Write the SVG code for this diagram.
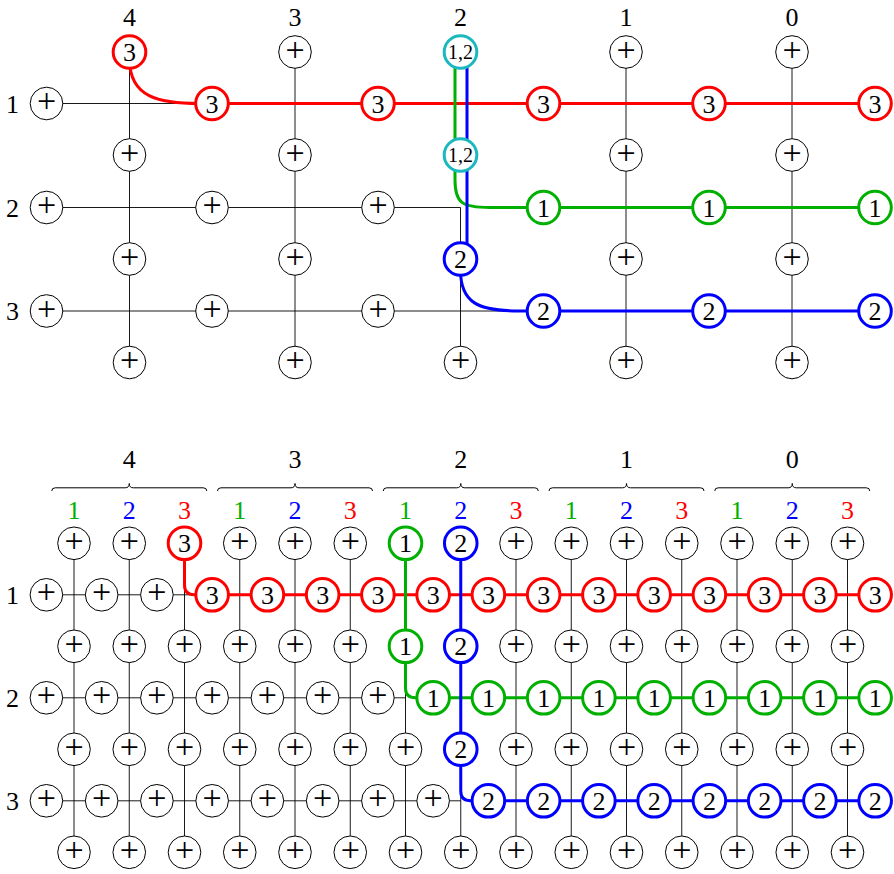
<svg xmlns="http://www.w3.org/2000/svg" width="894" height="874" viewBox="0 0 894 874">
<style>
.n circle{fill:#fff;stroke:#000;stroke-width:1}
.n text{font-family:"Liberation Serif",serif;font-size:26px;text-anchor:middle;fill:#000}
.n text.p{font-size:34px}
.n text.s{font-size:20px}
.r circle{stroke:#f00;stroke-width:3}
.g circle{stroke:#00b000;stroke-width:3}
.b circle{stroke:#00f;stroke-width:3}
.c circle{stroke:#1cb8c0;stroke-width:3}
.lb{font-family:"Liberation Serif",serif;font-size:26px;text-anchor:middle;fill:#000}
.thin{stroke:#000;stroke-width:0.9;fill:none}
.pr{stroke:#f00;stroke-width:3;fill:none}
.pg{stroke:#00b000;stroke-width:3;fill:none}
.pb{stroke:#00f;stroke-width:3;fill:none}
.br{stroke:#000;stroke-width:1;fill:none}
</style>
<rect width="894" height="874" fill="#fff"/>
<g id="labels">
<text class="lb" x="129.5" y="26">4</text>
<text class="lb" x="295" y="26">3</text>
<text class="lb" x="460.5" y="26">2</text>
<text class="lb" x="626" y="26">1</text>
<text class="lb" x="792" y="26">0</text>
<text class="lb" x="12.5" y="112.5">1</text>
<text class="lb" x="12.5" y="216.5">2</text>
<text class="lb" x="12.5" y="320">3</text>
<text class="lb" x="129.25" y="468">4</text>
<text class="lb" x="295" y="468">3</text>
<text class="lb" x="460.75" y="468">2</text>
<text class="lb" x="626.5" y="468">1</text>
<text class="lb" x="792.25" y="468">0</text>
<text class="lb" x="74" y="518.5" style="fill:#00b000">1</text>
<text class="lb" x="129.25" y="518.5" style="fill:#00f">2</text>
<text class="lb" x="184.5" y="518.5" style="fill:#f00">3</text>
<text class="lb" x="239.75" y="518.5" style="fill:#00b000">1</text>
<text class="lb" x="295" y="518.5" style="fill:#00f">2</text>
<text class="lb" x="350.25" y="518.5" style="fill:#f00">3</text>
<text class="lb" x="405.5" y="518.5" style="fill:#00b000">1</text>
<text class="lb" x="460.75" y="518.5" style="fill:#00f">2</text>
<text class="lb" x="516" y="518.5" style="fill:#f00">3</text>
<text class="lb" x="571.25" y="518.5" style="fill:#00b000">1</text>
<text class="lb" x="626.5" y="518.5" style="fill:#00f">2</text>
<text class="lb" x="681.75" y="518.5" style="fill:#f00">3</text>
<text class="lb" x="737" y="518.5" style="fill:#00b000">1</text>
<text class="lb" x="792.25" y="518.5" style="fill:#00f">2</text>
<text class="lb" x="847.5" y="518.5" style="fill:#f00">3</text>
<text class="lb" x="12.5" y="604">1</text>
<text class="lb" x="12.5" y="707">2</text>
<text class="lb" x="12.5" y="810">3</text>
</g>
<g id="braces">
<path class="br" d="M51.75,491 Q51.75,487.8 55.25,487.8 H125.25 Q129.25,487.8 129.25,483.5 Q129.25,487.8 133.25,487.8 H203.25 Q206.75,487.8 206.75,491"/>
<path class="br" d="M217.5,491 Q217.5,487.8 221,487.8 H291 Q295,487.8 295,483.5 Q295,487.8 299,487.8 H369 Q372.5,487.8 372.5,491"/>
<path class="br" d="M383.25,491 Q383.25,487.8 386.75,487.8 H456.75 Q460.75,487.8 460.75,483.5 Q460.75,487.8 464.75,487.8 H534.75 Q538.25,487.8 538.25,491"/>
<path class="br" d="M549,491 Q549,487.8 552.5,487.8 H622.5 Q626.5,487.8 626.5,483.5 Q626.5,487.8 630.5,487.8 H700.5 Q704,487.8 704,491"/>
<path class="br" d="M714.75,491 Q714.75,487.8 718.25,487.8 H788.25 Q792.25,487.8 792.25,483.5 Q792.25,487.8 796.25,487.8 H866.25 Q869.75,487.8 869.75,491"/>
</g>
<g id="connectors">
<path class="thin" d="M129.5,52 V362.5 M295,52 V362.5 M626,52 V362.5 M792,52 V362.5 M460.5,207.5 V362.5 M46.5,103.5 H212 M46.5,207.5 H460.5 M46.5,311 H543.5"/>
<path class="pr" d="M129.5,60 C130,97 158,103.5 200,103.5 H875"/>
<path class="pg" d="M455,60 V180 C455,203 462,207.5 490,207.5 H875"/>
<path class="pb" d="M467,60 V250 M460.5,270 C460.5,303 478,311 520,311 H875"/>
<path class="thin" d="M74,543.3 V852.3 M129.25,543.3 V852.3 M184.5,543.3 V852.3 M239.75,543.3 V852.3 M295,543.3 V852.3 M350.25,543.3 V852.3 M405.5,543.3 V852.3 M460.75,543.3 V852.3 M516,543.3 V852.3 M571.25,543.3 V852.3 M626.5,543.3 V852.3 M681.75,543.3 V852.3 M737,543.3 V852.3 M792.25,543.3 V852.3 M847.5,543.3 V852.3 M46.4,594.8 H212.15 M46.4,697.8 H405.5 M46.4,800.8 H460.75"/>
<path class="pr" d="M184.5,550 V585 Q184.5,594.8 194.5,594.8 H875.15"/>
<path class="pg" d="M405.5,550 V688 Q405.5,697.8 415.5,697.8 H875.15"/>
<path class="pb" d="M460.75,550 V791 Q460.75,800.8 470.75,800.8 H875.15"/>
</g>
<g id="top-nodes">
<g id="t-c4-0" class="n r" transform="translate(129.5,52)"><circle r="16.3"/><text y="9">3</text></g>
<g id="t-c4-1" class="n" transform="translate(129.5,155)"><circle r="16.3"/><text class="p" y="8.6">+</text></g>
<g id="t-c4-2" class="n" transform="translate(129.5,259)"><circle r="16.3"/><text class="p" y="8.6">+</text></g>
<g id="t-c4-3" class="n" transform="translate(129.5,362.5)"><circle r="16.3"/><text class="p" y="8.6">+</text></g>
<g id="t-c3-0" class="n" transform="translate(295,52)"><circle r="16.3"/><text class="p" y="8.6">+</text></g>
<g id="t-c3-1" class="n" transform="translate(295,155)"><circle r="16.3"/><text class="p" y="8.6">+</text></g>
<g id="t-c3-2" class="n" transform="translate(295,259)"><circle r="16.3"/><text class="p" y="8.6">+</text></g>
<g id="t-c3-3" class="n" transform="translate(295,362.5)"><circle r="16.3"/><text class="p" y="8.6">+</text></g>
<g id="t-c2-0" class="n c" transform="translate(460.5,52)"><circle r="16.3"/><text class="s" y="6.5">1,2</text></g>
<g id="t-c2-1" class="n c" transform="translate(460.5,155)"><circle r="16.3"/><text class="s" y="6.5">1,2</text></g>
<g id="t-c2-2" class="n b" transform="translate(460.5,259)"><circle r="16.3"/><text y="9">2</text></g>
<g id="t-c2-3" class="n" transform="translate(460.5,362.5)"><circle r="16.3"/><text class="p" y="8.6">+</text></g>
<g id="t-c1-0" class="n" transform="translate(626,52)"><circle r="16.3"/><text class="p" y="8.6">+</text></g>
<g id="t-c1-1" class="n" transform="translate(626,155)"><circle r="16.3"/><text class="p" y="8.6">+</text></g>
<g id="t-c1-2" class="n" transform="translate(626,259)"><circle r="16.3"/><text class="p" y="8.6">+</text></g>
<g id="t-c1-3" class="n" transform="translate(626,362.5)"><circle r="16.3"/><text class="p" y="8.6">+</text></g>
<g id="t-c0-0" class="n" transform="translate(792,52)"><circle r="16.3"/><text class="p" y="8.6">+</text></g>
<g id="t-c0-1" class="n" transform="translate(792,155)"><circle r="16.3"/><text class="p" y="8.6">+</text></g>
<g id="t-c0-2" class="n" transform="translate(792,259)"><circle r="16.3"/><text class="p" y="8.6">+</text></g>
<g id="t-c0-3" class="n" transform="translate(792,362.5)"><circle r="16.3"/><text class="p" y="8.6">+</text></g>
<g id="t-r1-0" class="n" transform="translate(46.5,103.5)"><circle r="16.3"/><text class="p" y="8.6">+</text></g>
<g id="t-r1-1" class="n r" transform="translate(212,103.5)"><circle r="16.3"/><text y="9">3</text></g>
<g id="t-r1-2" class="n r" transform="translate(378,103.5)"><circle r="16.3"/><text y="9">3</text></g>
<g id="t-r1-3" class="n r" transform="translate(543.5,103.5)"><circle r="16.3"/><text y="9">3</text></g>
<g id="t-r1-4" class="n r" transform="translate(709,103.5)"><circle r="16.3"/><text y="9">3</text></g>
<g id="t-r1-5" class="n r" transform="translate(875,103.5)"><circle r="16.3"/><text y="9">3</text></g>
<g id="t-r2-0" class="n" transform="translate(46.5,207.5)"><circle r="16.3"/><text class="p" y="8.6">+</text></g>
<g id="t-r2-1" class="n" transform="translate(212,207.5)"><circle r="16.3"/><text class="p" y="8.6">+</text></g>
<g id="t-r2-2" class="n" transform="translate(378,207.5)"><circle r="16.3"/><text class="p" y="8.6">+</text></g>
<g id="t-r2-3" class="n g" transform="translate(543.5,207.5)"><circle r="16.3"/><text y="9">1</text></g>
<g id="t-r2-4" class="n g" transform="translate(709,207.5)"><circle r="16.3"/><text y="9">1</text></g>
<g id="t-r2-5" class="n g" transform="translate(875,207.5)"><circle r="16.3"/><text y="9">1</text></g>
<g id="t-r3-0" class="n" transform="translate(46.5,311)"><circle r="16.3"/><text class="p" y="8.6">+</text></g>
<g id="t-r3-1" class="n" transform="translate(212,311)"><circle r="16.3"/><text class="p" y="8.6">+</text></g>
<g id="t-r3-2" class="n" transform="translate(378,311)"><circle r="16.3"/><text class="p" y="8.6">+</text></g>
<g id="t-r3-3" class="n b" transform="translate(543.5,311)"><circle r="16.3"/><text y="9">2</text></g>
<g id="t-r3-4" class="n b" transform="translate(709,311)"><circle r="16.3"/><text y="9">2</text></g>
<g id="t-r3-5" class="n b" transform="translate(875,311)"><circle r="16.3"/><text y="9">2</text></g>
</g>
<g id="bottom-nodes">
<g id="b-c0-0" class="n" transform="translate(74,543.3)"><circle r="16.3"/><text class="p" y="8.6">+</text></g>
<g id="b-c1-0" class="n" transform="translate(129.25,543.3)"><circle r="16.3"/><text class="p" y="8.6">+</text></g>
<g id="b-c2-0" class="n r" transform="translate(184.5,543.3)"><circle r="16.3"/><text y="9">3</text></g>
<g id="b-c3-0" class="n" transform="translate(239.75,543.3)"><circle r="16.3"/><text class="p" y="8.6">+</text></g>
<g id="b-c4-0" class="n" transform="translate(295,543.3)"><circle r="16.3"/><text class="p" y="8.6">+</text></g>
<g id="b-c5-0" class="n" transform="translate(350.25,543.3)"><circle r="16.3"/><text class="p" y="8.6">+</text></g>
<g id="b-c6-0" class="n g" transform="translate(405.5,543.3)"><circle r="16.3"/><text y="9">1</text></g>
<g id="b-c7-0" class="n b" transform="translate(460.75,543.3)"><circle r="16.3"/><text y="9">2</text></g>
<g id="b-c8-0" class="n" transform="translate(516,543.3)"><circle r="16.3"/><text class="p" y="8.6">+</text></g>
<g id="b-c9-0" class="n" transform="translate(571.25,543.3)"><circle r="16.3"/><text class="p" y="8.6">+</text></g>
<g id="b-c10-0" class="n" transform="translate(626.5,543.3)"><circle r="16.3"/><text class="p" y="8.6">+</text></g>
<g id="b-c11-0" class="n" transform="translate(681.75,543.3)"><circle r="16.3"/><text class="p" y="8.6">+</text></g>
<g id="b-c12-0" class="n" transform="translate(737,543.3)"><circle r="16.3"/><text class="p" y="8.6">+</text></g>
<g id="b-c13-0" class="n" transform="translate(792.25,543.3)"><circle r="16.3"/><text class="p" y="8.6">+</text></g>
<g id="b-c14-0" class="n" transform="translate(847.5,543.3)"><circle r="16.3"/><text class="p" y="8.6">+</text></g>
<g id="b-c0-1" class="n" transform="translate(74,646.3)"><circle r="16.3"/><text class="p" y="8.6">+</text></g>
<g id="b-c1-1" class="n" transform="translate(129.25,646.3)"><circle r="16.3"/><text class="p" y="8.6">+</text></g>
<g id="b-c2-1" class="n" transform="translate(184.5,646.3)"><circle r="16.3"/><text class="p" y="8.6">+</text></g>
<g id="b-c3-1" class="n" transform="translate(239.75,646.3)"><circle r="16.3"/><text class="p" y="8.6">+</text></g>
<g id="b-c4-1" class="n" transform="translate(295,646.3)"><circle r="16.3"/><text class="p" y="8.6">+</text></g>
<g id="b-c5-1" class="n" transform="translate(350.25,646.3)"><circle r="16.3"/><text class="p" y="8.6">+</text></g>
<g id="b-c6-1" class="n g" transform="translate(405.5,646.3)"><circle r="16.3"/><text y="9">1</text></g>
<g id="b-c7-1" class="n b" transform="translate(460.75,646.3)"><circle r="16.3"/><text y="9">2</text></g>
<g id="b-c8-1" class="n" transform="translate(516,646.3)"><circle r="16.3"/><text class="p" y="8.6">+</text></g>
<g id="b-c9-1" class="n" transform="translate(571.25,646.3)"><circle r="16.3"/><text class="p" y="8.6">+</text></g>
<g id="b-c10-1" class="n" transform="translate(626.5,646.3)"><circle r="16.3"/><text class="p" y="8.6">+</text></g>
<g id="b-c11-1" class="n" transform="translate(681.75,646.3)"><circle r="16.3"/><text class="p" y="8.6">+</text></g>
<g id="b-c12-1" class="n" transform="translate(737,646.3)"><circle r="16.3"/><text class="p" y="8.6">+</text></g>
<g id="b-c13-1" class="n" transform="translate(792.25,646.3)"><circle r="16.3"/><text class="p" y="8.6">+</text></g>
<g id="b-c14-1" class="n" transform="translate(847.5,646.3)"><circle r="16.3"/><text class="p" y="8.6">+</text></g>
<g id="b-c0-2" class="n" transform="translate(74,749.3)"><circle r="16.3"/><text class="p" y="8.6">+</text></g>
<g id="b-c1-2" class="n" transform="translate(129.25,749.3)"><circle r="16.3"/><text class="p" y="8.6">+</text></g>
<g id="b-c2-2" class="n" transform="translate(184.5,749.3)"><circle r="16.3"/><text class="p" y="8.6">+</text></g>
<g id="b-c3-2" class="n" transform="translate(239.75,749.3)"><circle r="16.3"/><text class="p" y="8.6">+</text></g>
<g id="b-c4-2" class="n" transform="translate(295,749.3)"><circle r="16.3"/><text class="p" y="8.6">+</text></g>
<g id="b-c5-2" class="n" transform="translate(350.25,749.3)"><circle r="16.3"/><text class="p" y="8.6">+</text></g>
<g id="b-c6-2" class="n" transform="translate(405.5,749.3)"><circle r="16.3"/><text class="p" y="8.6">+</text></g>
<g id="b-c7-2" class="n b" transform="translate(460.75,749.3)"><circle r="16.3"/><text y="9">2</text></g>
<g id="b-c8-2" class="n" transform="translate(516,749.3)"><circle r="16.3"/><text class="p" y="8.6">+</text></g>
<g id="b-c9-2" class="n" transform="translate(571.25,749.3)"><circle r="16.3"/><text class="p" y="8.6">+</text></g>
<g id="b-c10-2" class="n" transform="translate(626.5,749.3)"><circle r="16.3"/><text class="p" y="8.6">+</text></g>
<g id="b-c11-2" class="n" transform="translate(681.75,749.3)"><circle r="16.3"/><text class="p" y="8.6">+</text></g>
<g id="b-c12-2" class="n" transform="translate(737,749.3)"><circle r="16.3"/><text class="p" y="8.6">+</text></g>
<g id="b-c13-2" class="n" transform="translate(792.25,749.3)"><circle r="16.3"/><text class="p" y="8.6">+</text></g>
<g id="b-c14-2" class="n" transform="translate(847.5,749.3)"><circle r="16.3"/><text class="p" y="8.6">+</text></g>
<g id="b-c0-3" class="n" transform="translate(74,852.3)"><circle r="16.3"/><text class="p" y="8.6">+</text></g>
<g id="b-c1-3" class="n" transform="translate(129.25,852.3)"><circle r="16.3"/><text class="p" y="8.6">+</text></g>
<g id="b-c2-3" class="n" transform="translate(184.5,852.3)"><circle r="16.3"/><text class="p" y="8.6">+</text></g>
<g id="b-c3-3" class="n" transform="translate(239.75,852.3)"><circle r="16.3"/><text class="p" y="8.6">+</text></g>
<g id="b-c4-3" class="n" transform="translate(295,852.3)"><circle r="16.3"/><text class="p" y="8.6">+</text></g>
<g id="b-c5-3" class="n" transform="translate(350.25,852.3)"><circle r="16.3"/><text class="p" y="8.6">+</text></g>
<g id="b-c6-3" class="n" transform="translate(405.5,852.3)"><circle r="16.3"/><text class="p" y="8.6">+</text></g>
<g id="b-c7-3" class="n" transform="translate(460.75,852.3)"><circle r="16.3"/><text class="p" y="8.6">+</text></g>
<g id="b-c8-3" class="n" transform="translate(516,852.3)"><circle r="16.3"/><text class="p" y="8.6">+</text></g>
<g id="b-c9-3" class="n" transform="translate(571.25,852.3)"><circle r="16.3"/><text class="p" y="8.6">+</text></g>
<g id="b-c10-3" class="n" transform="translate(626.5,852.3)"><circle r="16.3"/><text class="p" y="8.6">+</text></g>
<g id="b-c11-3" class="n" transform="translate(681.75,852.3)"><circle r="16.3"/><text class="p" y="8.6">+</text></g>
<g id="b-c12-3" class="n" transform="translate(737,852.3)"><circle r="16.3"/><text class="p" y="8.6">+</text></g>
<g id="b-c13-3" class="n" transform="translate(792.25,852.3)"><circle r="16.3"/><text class="p" y="8.6">+</text></g>
<g id="b-c14-3" class="n" transform="translate(847.5,852.3)"><circle r="16.3"/><text class="p" y="8.6">+</text></g>
<g id="b-r1-0" class="n" transform="translate(46.4,594.8)"><circle r="16.3"/><text class="p" y="8.6">+</text></g>
<g id="b-r1-1" class="n" transform="translate(101.65,594.8)"><circle r="16.3"/><text class="p" y="8.6">+</text></g>
<g id="b-r1-2" class="n" transform="translate(156.9,594.8)"><circle r="16.3"/><text class="p" y="8.6">+</text></g>
<g id="b-r1-3" class="n r" transform="translate(212.15,594.8)"><circle r="16.3"/><text y="9">3</text></g>
<g id="b-r1-4" class="n r" transform="translate(267.4,594.8)"><circle r="16.3"/><text y="9">3</text></g>
<g id="b-r1-5" class="n r" transform="translate(322.65,594.8)"><circle r="16.3"/><text y="9">3</text></g>
<g id="b-r1-6" class="n r" transform="translate(377.9,594.8)"><circle r="16.3"/><text y="9">3</text></g>
<g id="b-r1-7" class="n r" transform="translate(433.15,594.8)"><circle r="16.3"/><text y="9">3</text></g>
<g id="b-r1-8" class="n r" transform="translate(488.4,594.8)"><circle r="16.3"/><text y="9">3</text></g>
<g id="b-r1-9" class="n r" transform="translate(543.65,594.8)"><circle r="16.3"/><text y="9">3</text></g>
<g id="b-r1-10" class="n r" transform="translate(598.9,594.8)"><circle r="16.3"/><text y="9">3</text></g>
<g id="b-r1-11" class="n r" transform="translate(654.15,594.8)"><circle r="16.3"/><text y="9">3</text></g>
<g id="b-r1-12" class="n r" transform="translate(709.4,594.8)"><circle r="16.3"/><text y="9">3</text></g>
<g id="b-r1-13" class="n r" transform="translate(764.65,594.8)"><circle r="16.3"/><text y="9">3</text></g>
<g id="b-r1-14" class="n r" transform="translate(819.9,594.8)"><circle r="16.3"/><text y="9">3</text></g>
<g id="b-r1-15" class="n r" transform="translate(875.15,594.8)"><circle r="16.3"/><text y="9">3</text></g>
<g id="b-r2-0" class="n" transform="translate(46.4,697.8)"><circle r="16.3"/><text class="p" y="8.6">+</text></g>
<g id="b-r2-1" class="n" transform="translate(101.65,697.8)"><circle r="16.3"/><text class="p" y="8.6">+</text></g>
<g id="b-r2-2" class="n" transform="translate(156.9,697.8)"><circle r="16.3"/><text class="p" y="8.6">+</text></g>
<g id="b-r2-3" class="n" transform="translate(212.15,697.8)"><circle r="16.3"/><text class="p" y="8.6">+</text></g>
<g id="b-r2-4" class="n" transform="translate(267.4,697.8)"><circle r="16.3"/><text class="p" y="8.6">+</text></g>
<g id="b-r2-5" class="n" transform="translate(322.65,697.8)"><circle r="16.3"/><text class="p" y="8.6">+</text></g>
<g id="b-r2-6" class="n" transform="translate(377.9,697.8)"><circle r="16.3"/><text class="p" y="8.6">+</text></g>
<g id="b-r2-7" class="n g" transform="translate(433.15,697.8)"><circle r="16.3"/><text y="9">1</text></g>
<g id="b-r2-8" class="n g" transform="translate(488.4,697.8)"><circle r="16.3"/><text y="9">1</text></g>
<g id="b-r2-9" class="n g" transform="translate(543.65,697.8)"><circle r="16.3"/><text y="9">1</text></g>
<g id="b-r2-10" class="n g" transform="translate(598.9,697.8)"><circle r="16.3"/><text y="9">1</text></g>
<g id="b-r2-11" class="n g" transform="translate(654.15,697.8)"><circle r="16.3"/><text y="9">1</text></g>
<g id="b-r2-12" class="n g" transform="translate(709.4,697.8)"><circle r="16.3"/><text y="9">1</text></g>
<g id="b-r2-13" class="n g" transform="translate(764.65,697.8)"><circle r="16.3"/><text y="9">1</text></g>
<g id="b-r2-14" class="n g" transform="translate(819.9,697.8)"><circle r="16.3"/><text y="9">1</text></g>
<g id="b-r2-15" class="n g" transform="translate(875.15,697.8)"><circle r="16.3"/><text y="9">1</text></g>
<g id="b-r3-0" class="n" transform="translate(46.4,800.8)"><circle r="16.3"/><text class="p" y="8.6">+</text></g>
<g id="b-r3-1" class="n" transform="translate(101.65,800.8)"><circle r="16.3"/><text class="p" y="8.6">+</text></g>
<g id="b-r3-2" class="n" transform="translate(156.9,800.8)"><circle r="16.3"/><text class="p" y="8.6">+</text></g>
<g id="b-r3-3" class="n" transform="translate(212.15,800.8)"><circle r="16.3"/><text class="p" y="8.6">+</text></g>
<g id="b-r3-4" class="n" transform="translate(267.4,800.8)"><circle r="16.3"/><text class="p" y="8.6">+</text></g>
<g id="b-r3-5" class="n" transform="translate(322.65,800.8)"><circle r="16.3"/><text class="p" y="8.6">+</text></g>
<g id="b-r3-6" class="n" transform="translate(377.9,800.8)"><circle r="16.3"/><text class="p" y="8.6">+</text></g>
<g id="b-r3-7" class="n" transform="translate(433.15,800.8)"><circle r="16.3"/><text class="p" y="8.6">+</text></g>
<g id="b-r3-8" class="n b" transform="translate(488.4,800.8)"><circle r="16.3"/><text y="9">2</text></g>
<g id="b-r3-9" class="n b" transform="translate(543.65,800.8)"><circle r="16.3"/><text y="9">2</text></g>
<g id="b-r3-10" class="n b" transform="translate(598.9,800.8)"><circle r="16.3"/><text y="9">2</text></g>
<g id="b-r3-11" class="n b" transform="translate(654.15,800.8)"><circle r="16.3"/><text y="9">2</text></g>
<g id="b-r3-12" class="n b" transform="translate(709.4,800.8)"><circle r="16.3"/><text y="9">2</text></g>
<g id="b-r3-13" class="n b" transform="translate(764.65,800.8)"><circle r="16.3"/><text y="9">2</text></g>
<g id="b-r3-14" class="n b" transform="translate(819.9,800.8)"><circle r="16.3"/><text y="9">2</text></g>
<g id="b-r3-15" class="n b" transform="translate(875.15,800.8)"><circle r="16.3"/><text y="9">2</text></g>
</g>
</svg>
